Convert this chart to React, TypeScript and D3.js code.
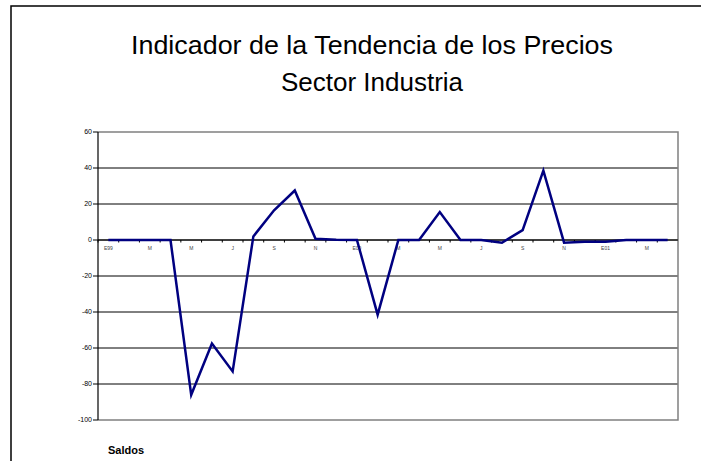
import React from 'react';
import * as d3 from 'd3';

// meses desde enero 1999 hasta abril 2001
const meses = [
  'E99', 'F', 'M', 'A', 'M', 'J', 'J', 'A', 'S', 'O', 'N', 'D',
  'E00', 'F', 'M', 'A', 'M', 'J', 'J', 'A', 'S', 'O', 'N', 'D',
  'E01', 'F', 'M', 'A',
];
const saldos = [
  0, 0, 0, 0, -86, -57.5, -73, 2, 16.5, 27.5, 0.7, 0.2,
  0, -41.5, 0, 0, 15.5, 0, 0, -1.5, 5.5, 38.5, -1.5, -1,
  -1, 0, 0, 0,
];
const yTicks = [60, 40, 20, 0, -20, -40, -60, -80, -100];

const W = 701;
const H = 461;
const plot = { left: 98, right: 678, top: 132, bottom: 420 };

export default function App() {
  const keys = meses.map((_, i) => String(i));
  const x = d3.scaleBand<string>().domain(keys).range([plot.left, plot.right]);
  const y = d3.scaleLinear().domain([-100, 60]).range([plot.bottom, plot.top]);
  const cx = (i: number) => (x(String(i)) as number) + x.bandwidth() / 2;

  const line = d3.line<number>()
    .x((_, i) => cx(i))
    .y(d => y(d));

  const y0 = y(0);

  return (
    <svg width={W} height={H} style={{ position: 'absolute', left: 0, top: 0, fontFamily: 'Arial, "Liberation Sans", sans-serif' }}>
      <rect x={0} y={0} width={W} height={H} fill="#fff" />
      {/* marco del gráfico */}
      <rect x={11} y={6} width={W} height={H} fill="none" stroke="#000" strokeWidth={1.5} />

      <text x={372} y={54} textAnchor="middle" fontSize={26} textLength={482} lengthAdjust="spacingAndGlyphs" fill="#000">
        Indicador de la Tendencia de los Precios
      </text>
      <text x={372} y={91} textAnchor="middle" fontSize={26} fill="#000">
        Sector Industria
      </text>

      {/* líneas de cuadrícula */}
      {yTicks.filter(t => t !== 60 && t !== -100).map(t => (
        <line key={t} x1={plot.left} x2={plot.right} y1={y(t)} y2={y(t)} stroke="#000" strokeWidth={1} />
      ))}
      {/* borde del área de trazado */}
      <path
        d={`M${plot.left},${plot.top}H${plot.right}V${plot.bottom}H${plot.left}`}
        fill="none"
        stroke="#808080"
        strokeWidth={1.5}
      />

      {/* eje Y */}
      <line x1={plot.left} x2={plot.left} y1={plot.top} y2={plot.bottom} stroke="#000" strokeWidth={1.2} />
      {yTicks.map(t => (
        <g key={t}>
          <line x1={plot.left - 5} x2={plot.left} y1={y(t)} y2={y(t)} stroke="#000" />
          <text x={plot.left - 6} y={y(t)} dy="0.35em" textAnchor="end" fontSize={7} fill="#000">
            {t}
          </text>
        </g>
      ))}

      {/* eje X en el cero */}
      <line x1={plot.left} x2={plot.right} y1={y0} y2={y0} stroke="#000" strokeWidth={1.2} />
      {keys.map(k => (
        <line key={k} x1={x(k) as number} x2={x(k) as number} y1={y0} y2={y0 + 2.5} stroke="#000" strokeWidth={1} />
      ))}
      {meses.map((m, i) =>
        i % 2 === 0 ? (
          <text key={i} x={cx(i)} y={y0 + 9.5} textAnchor="middle" fontSize={5} fill="#444">
            {m}
          </text>
        ) : null
      )}

      <path d={line(saldos) ?? ''} fill="none" stroke="#000080" strokeWidth={2.5} strokeLinejoin="miter" />

      <text x={108} y={454} fontSize={11} fontWeight="bold" fill="#000">
        Saldos
      </text>
    </svg>
  );
}
